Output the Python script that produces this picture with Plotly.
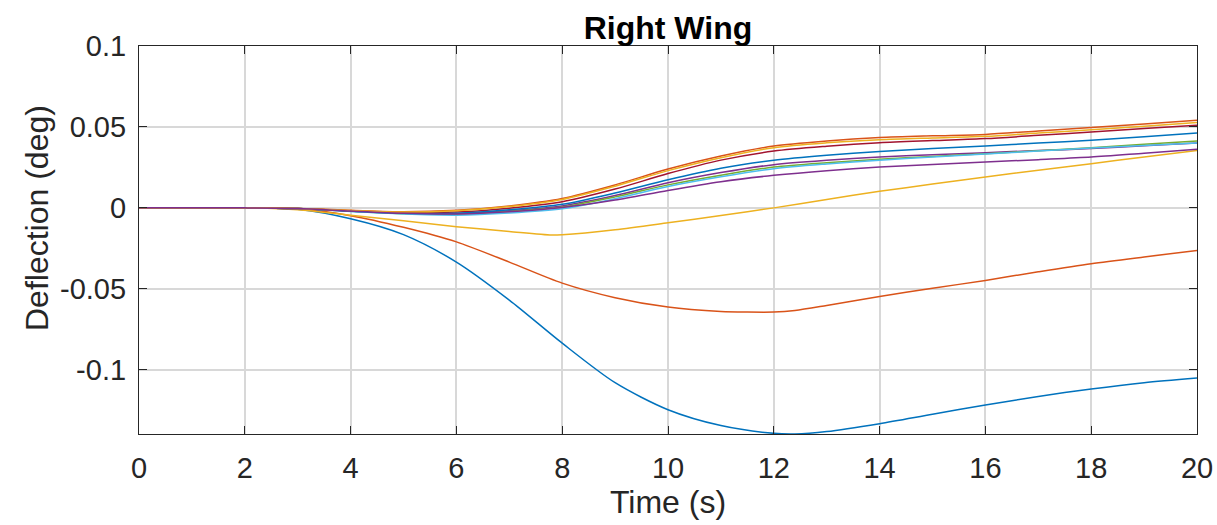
import plotly.graph_objects as go

# ---- data ----
t_blue = [0, 1, 2, 3, 4, 5, 6, 7, 8, 9, 10, 11, 12, 12.4, 13, 14, 15, 16, 17, 18, 19, 20]
v_blue = [0, 0, 0, -0.0008, -0.0067, -0.0165, -0.0335, -0.057, -0.0836, -0.108, -0.1247,
          -0.1345, -0.1393, -0.1397, -0.1382, -0.1333, -0.1275, -0.1218, -0.1165, -0.1119, -0.108, -0.1051]

t_orange = [0, 1, 2, 3, 4, 5, 6, 7, 8, 9, 10, 11, 11.5, 12, 12.4, 13, 14, 15, 16, 17, 18, 19, 20]
v_orange = [0, 0, 0, -0.0006, -0.0048, -0.012, -0.021, -0.0335, -0.0465, -0.0555, -0.0613,
            -0.064, -0.0644, -0.0644, -0.0634, -0.0603, -0.0547, -0.0497, -0.0448, -0.0395,
            -0.0345, -0.0303, -0.0263]

t_yellow = [0, 1, 2, 3, 4, 5, 6, 7, 7.8, 8, 9, 10, 11, 12, 13, 14, 15, 16, 17, 18, 19, 20]
v_yellow = [0, 0, 0, -0.0012, -0.0046, -0.008, -0.0116, -0.0146, -0.0168, -0.0166, -0.0135,
            -0.0092, -0.0047, 0, 0.0052, 0.0102, 0.0147, 0.0191, 0.0232, 0.0273, 0.0314, 0.0355]

t_cluster = [0, 1, 2, 3, 4, 5, 6, 7, 8, 9, 10, 11, 12, 13, 14, 15, 16, 17, 18, 19, 20]
v_purple = [0, 0, 0, -0.0004, -0.002, -0.0034, -0.0036, -0.0018, 0.0012, 0.0076, 0.0155, 0.0218,
            0.0267, 0.0294, 0.0314, 0.0328, 0.0341, 0.0354, 0.0366, 0.0384, 0.0401]
v_green = [0, 0, 0, -0.0004, -0.0021, -0.0036, -0.0039, -0.0022, 0.0006, 0.0068, 0.0142, 0.0202,
           0.0252, 0.0279, 0.030, 0.0318, 0.0335, 0.0353, 0.0372, 0.0393, 0.0413]
v_cyan = [0, 0, 0, -0.0004, -0.0023, -0.0038, -0.0045, -0.0032, -0.0006, 0.0056, 0.0132, 0.0192,
          0.0242, 0.0271, 0.0294, 0.0315, 0.0333, 0.0351, 0.037, 0.0385, 0.040]
v_darkred = [0, 0, 0, -0.0004, -0.0018, -0.003, -0.0026, -0.0002, 0.0038, 0.0116, 0.0212, 0.0295,
             0.0351, 0.0381, 0.0403, 0.0416, 0.0428, 0.0448, 0.0469, 0.049, 0.051]
v_blue2 = [0, 0, 0, -0.0004, -0.002, -0.0033, -0.0033, -0.0012, 0.0022, 0.0092, 0.0174, 0.0245,
           0.0294, 0.0325, 0.0349, 0.0366, 0.0382, 0.040, 0.0417, 0.044, 0.0462]
v_orange2 = [0, 0, 0, -0.0004, -0.0015, -0.0024, -0.0015, 0.0012, 0.0058, 0.0142, 0.024, 0.032,
             0.0382, 0.0413, 0.0434, 0.0445, 0.0454, 0.0475, 0.0496, 0.0518, 0.0541]
v_yellow2 = [0, 0, 0, -0.0004, -0.0016, -0.0026, -0.0018, 0.0008, 0.0052, 0.0134, 0.023, 0.031,
             0.0372, 0.0402, 0.0421, 0.0432, 0.0442, 0.0462, 0.0483, 0.0505, 0.0527]
v_purple2 = [0, 0, 0, -0.0004, -0.002, -0.0034, -0.0038, -0.0024, 0.0002, 0.0048, 0.0108, 0.0162,
             0.0201, 0.023, 0.0252, 0.0268, 0.0283, 0.0298, 0.0314, 0.0338, 0.0362]

x_ticks = [0, 2, 4, 6, 8, 10, 12, 14, 16, 18, 20]
x_ticktext = ["0", "2", "4", "6", "8", "10", "12", "14", "16", "18", "20"]
y_ticks = [-0.1, -0.05, 0, 0.05, 0.1]
y_ticktext = ["-0.1", "-0.05", "0", "0.05", "0.1"]

series = [
    (t_blue, v_blue, "#0072BD"),
    (t_orange, v_orange, "#D95319"),
    (t_yellow, v_yellow, "#EDB120"),
    (t_cluster, v_purple, "#7E2F8E"),
    (t_cluster, v_green, "#77AC30"),
    (t_cluster, v_cyan, "#4DBEEE"),
    (t_cluster, v_darkred, "#A2142F"),
    (t_cluster, v_blue2, "#0072BD"),
    (t_cluster, v_orange2, "#D95319"),
    (t_cluster, v_yellow2, "#EDB120"),
    (t_cluster, v_purple2, "#7E2F8E"),
]

FONT = "Liberation Sans, Arial, Helvetica, sans-serif"

fig = go.Figure()
for t, v, c in series:
    fig.add_trace(go.Scatter(x=t, y=v, mode="lines",
                             line=dict(color=c, width=1.5, shape="spline", smoothing=0.8),
                             showlegend=False, hoverinfo="skip"))

axis_common = dict(
    showline=True, linecolor="#262626", linewidth=1.2, mirror="allticks",
    ticks="inside", ticklen=8, tickcolor="#262626", tickwidth=1.2,
    showgrid=True, gridcolor="#D8D8D8", gridwidth=1.5, zeroline=False,
    automargin=False,
    tickfont=dict(family=FONT, size=29, color="#262626"),
)

L, R, T, B = 139, 20, 46, 91
W, H = 1217, 525
plot_h = H - T - B

fig.update_layout(
    width=W, height=H,
    margin=dict(l=L, r=R, t=T, b=B),
    paper_bgcolor="white", plot_bgcolor="white",
    title=dict(text="<b>Right Wing</b>", xref="paper", x=0.5, xanchor="center",
               yref="container", y=1 - 28 / H, yanchor="middle",
               font=dict(family=FONT, size=32, color="black")),
    xaxis=dict(range=[0, 20], tickvals=x_ticks, ticktext=x_ticktext,
               ticklabelstandoff=8,
               title=dict(text="Time (s)", standoff=4,
                          font=dict(family=FONT, size=32, color="#262626")),
               **axis_common),
    yaxis=dict(range=[-0.1397, 0.1], tickvals=y_ticks, ticktext=y_ticktext,
               ticklabelstandoff=6,
               **axis_common),
    annotations=[dict(text="Deflection (deg)", xref="paper", yref="paper",
                      x=(37 - L) / (W - L - R), y=(H - B - 218) / plot_h,
                      xanchor="center", yanchor="middle", textangle=-90, showarrow=False,
                      font=dict(family=FONT, size=32, color="#262626"))],
)

fig.write_html("out.html")
